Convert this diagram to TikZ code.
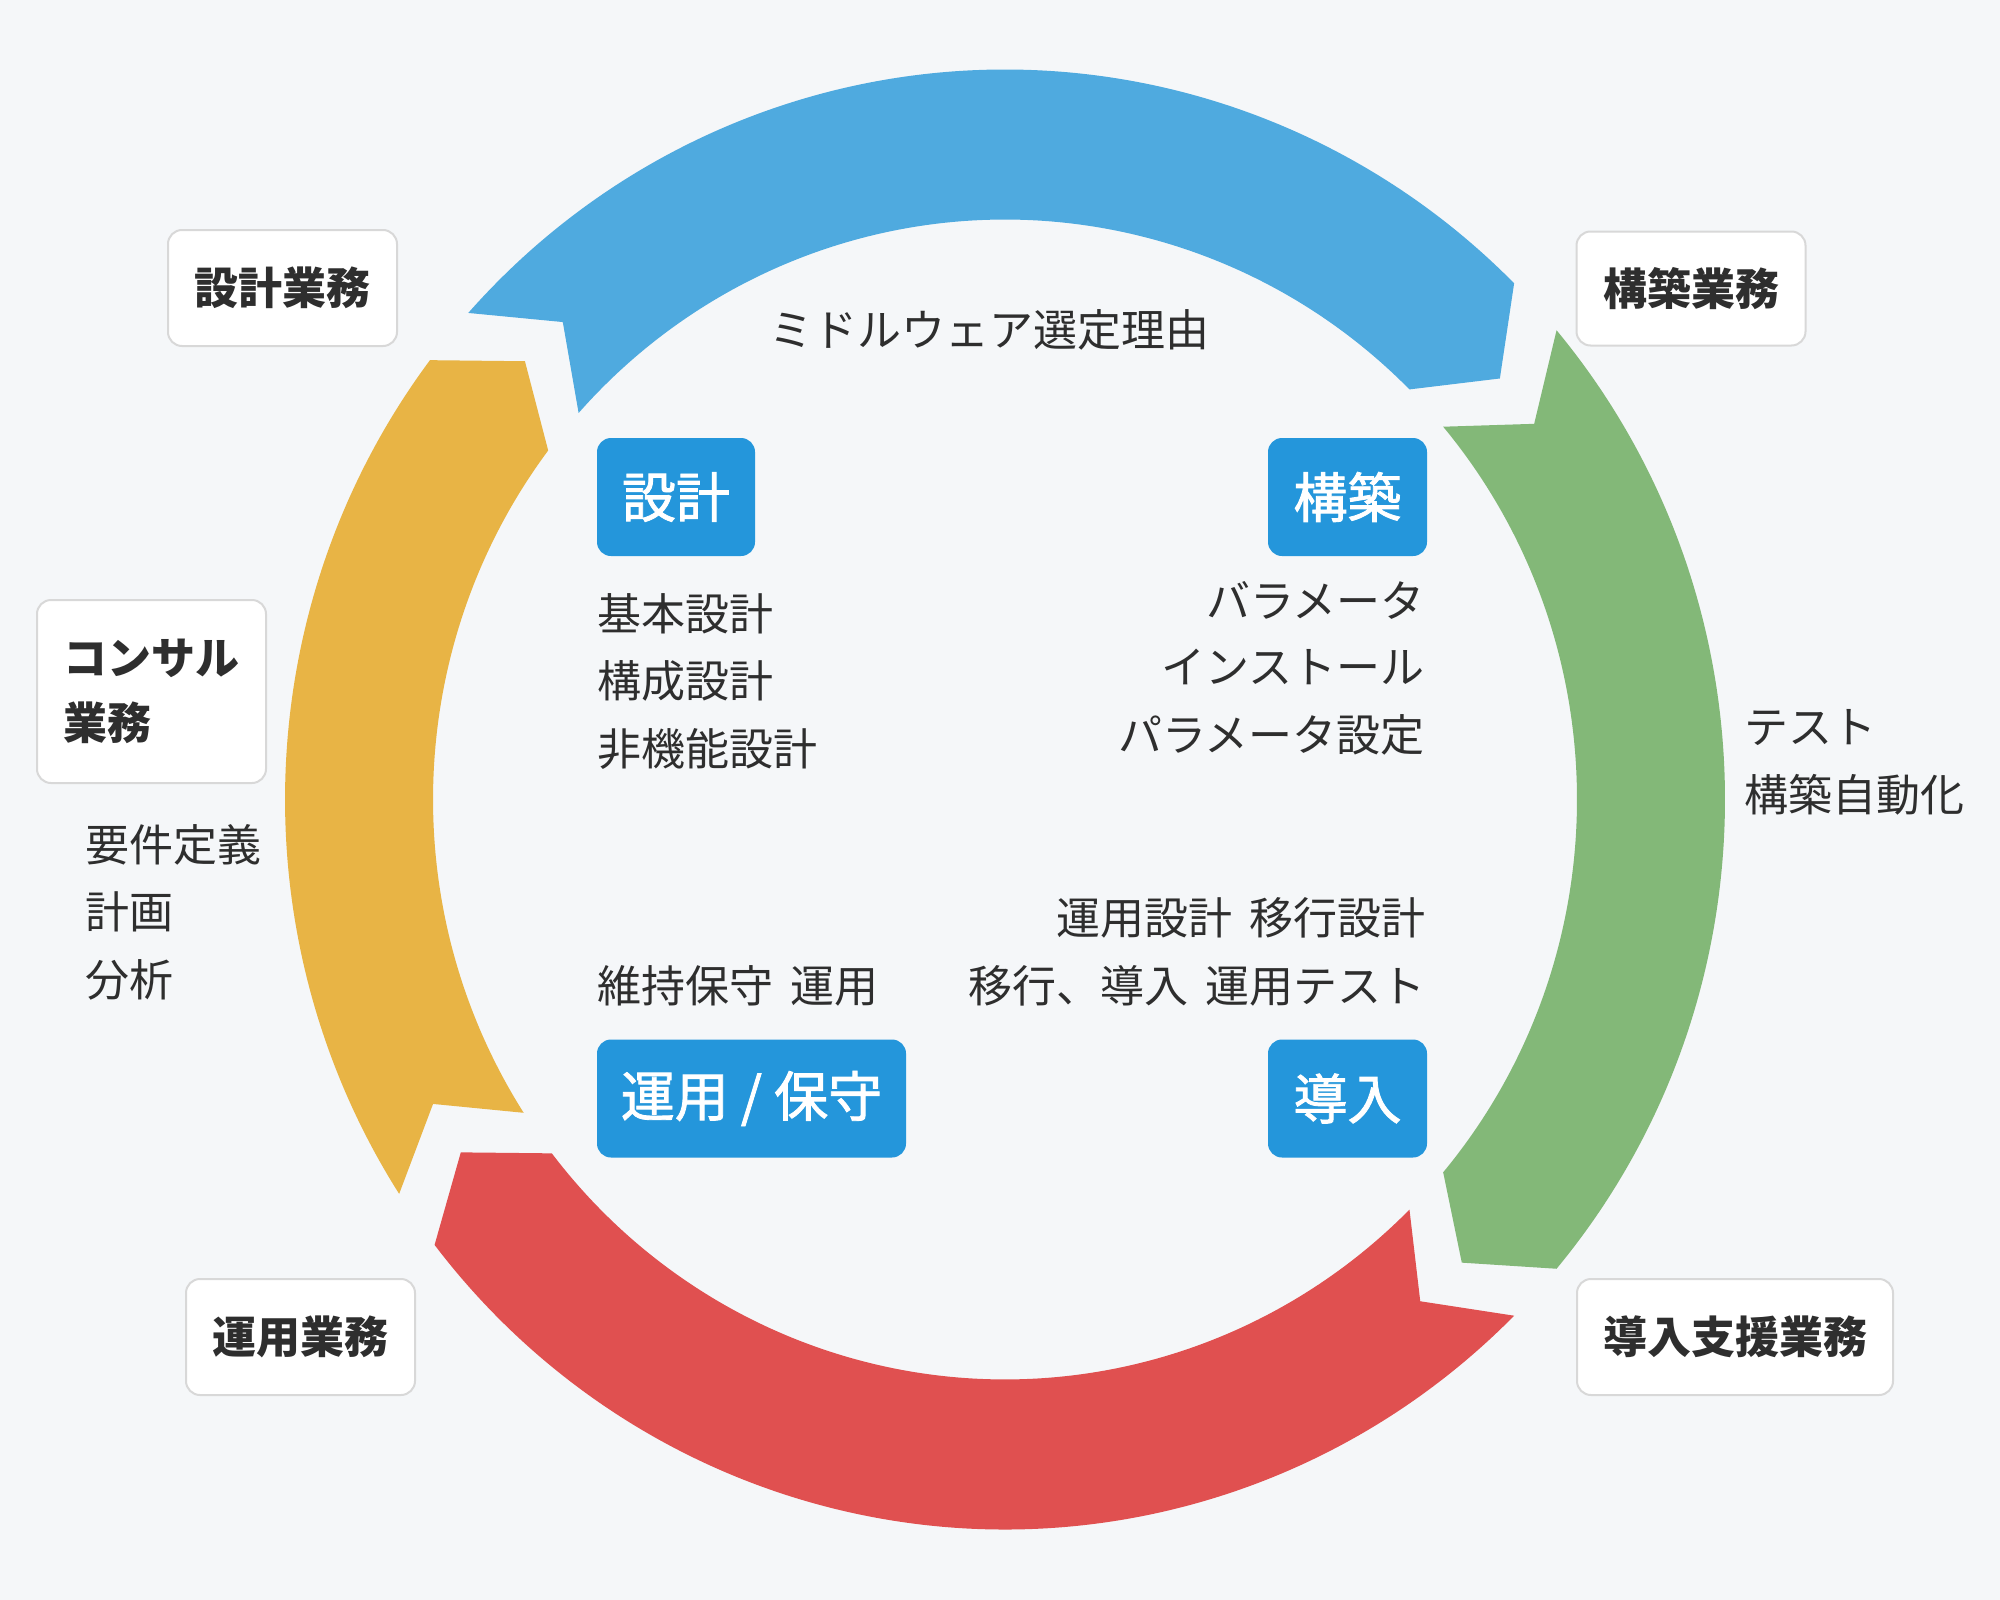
\documentclass[tikz,border=0pt]{standalone}
\usepackage{fontspec}
\setmainfont{Noto Sans CJK JP}
\definecolor{bg}{HTML}{F5F7F9}
\definecolor{ink}{HTML}{2E2E2E}
\definecolor{boxline}{HTML}{D8D8D8}
\definecolor{bluebox}{HTML}{2496DB}
\definecolor{arcblue}{HTML}{4FAADF}
\definecolor{arcgreen}{HTML}{83B878}
\definecolor{arcred}{HTML}{E05050}
\definecolor{arcyellow}{HTML}{E8B445}
\newcommand\cyclearc[3]{%
  \fill[#1] (#2:720) arc[start angle=#2, end angle=#3, radius=720]
    -- ({#3-5}:646) -- (#3:572)
    arc[start angle=#3, end angle=#2, radius=572]
    -- ({#2-5}:646) -- cycle;}
\begin{document}
\begin{tikzpicture}[x=1pt,y=-1pt,
  txt/.style={font=\fontsize{44}{52}\selectfont, text=ink, inner sep=0pt},
  wbox/.style={draw=boxline, line width=2pt, fill=white, rounded corners=14pt,
    font=\fontsize{44}{65}\selectfont\bfseries, text=ink, inner sep=0pt},
  bbox/.style={fill=bluebox, rounded corners=14pt, text=white,
    font=\fontsize{54}{60}\selectfont\addfontfeatures{FakeBold=1.6}, inner sep=0pt, minimum height=118pt}]
\useasboundingbox (0,0) rectangle (2000,1600);
\fill[bg] (0,0) rectangle (2000,1600);

% cycle arrows
\begin{scope}[shift={(1005,799.5)}, yscale=-1.0139]
  \cyclearc{arcblue}{138.2}{45}
  \cyclearc{arcgreen}{40}{-40}
  \cyclearc{arcred}{-45}{-142.4}
  \cyclearc{arcyellow}{212.7}{143}
\end{scope}

% outer business boxes
\node[wbox, minimum width=229pt, minimum height=116pt] (sekkeigyomu) at (282.5,288) {設計業務};
\node[wbox, minimum width=229pt, minimum height=114pt] (kouchikugyomu) at (1691,288.5) {構築業務};
\node[wbox, minimum width=229pt, minimum height=183pt, align=left] (consul) at (151.5,691.5) {コンサル\\業務};
\node[wbox, minimum width=229pt, minimum height=116pt] (unyougyomu) at (300.5,1337) {運用業務};
\node[wbox, minimum width=316pt, minimum height=116pt] (dounyugyomu) at (1735,1337) {導入支援業務};

% inner blue boxes
\node[bbox, minimum width=158pt] (sekkei) at (676,497) {設計};
\node[bbox, minimum width=159pt] (kouchiku) at (1347.5,497) {構築};
\node[bbox, minimum width=309pt] (unyou) at (751.5,1098.5) {運用 / 保守};
\node[bbox, minimum width=159pt] (dounyu) at (1347.5,1098.5) {導入};

% texts
\node[txt] (mw) at (989,330) {ミドルウェア選定理由};
\node[txt, anchor=west] (d1) at (597,614) {基本設計};
\node[txt, anchor=west] (d2) at (597,681) {構成設計};
\node[txt, anchor=west] (d3) at (597,749) {非機能設計};
\node[txt, anchor=east] (c1) at (1425,600) {バラメータ};
\node[txt, anchor=east] (c2) at (1425,667) {インストール};
\node[txt, anchor=east] (c3) at (1425,735) {パラメータ設定};
\node[txt, anchor=west] (g1) at (1744,728) {テスト};
\node[txt, anchor=west] (g2) at (1744,795) {構築自動化};
\node[txt, anchor=west] (y1) at (85,845) {要件定義};
\node[txt, anchor=west] (y2) at (85,912) {計画};
\node[txt, anchor=west] (y3) at (85,980) {分析};
\node[txt, anchor=west] (o1) at (597,986) {維持保守\hspace{0.4em}運用};
\node[txt, anchor=east] (i1) at (1426,918) {運用設計\hspace{0.4em}移行設計};
\node[txt, anchor=east] (i2) at (1426,986) {移行、導入\hspace{0.4em}運用テスト};
\end{tikzpicture}
\end{document}
